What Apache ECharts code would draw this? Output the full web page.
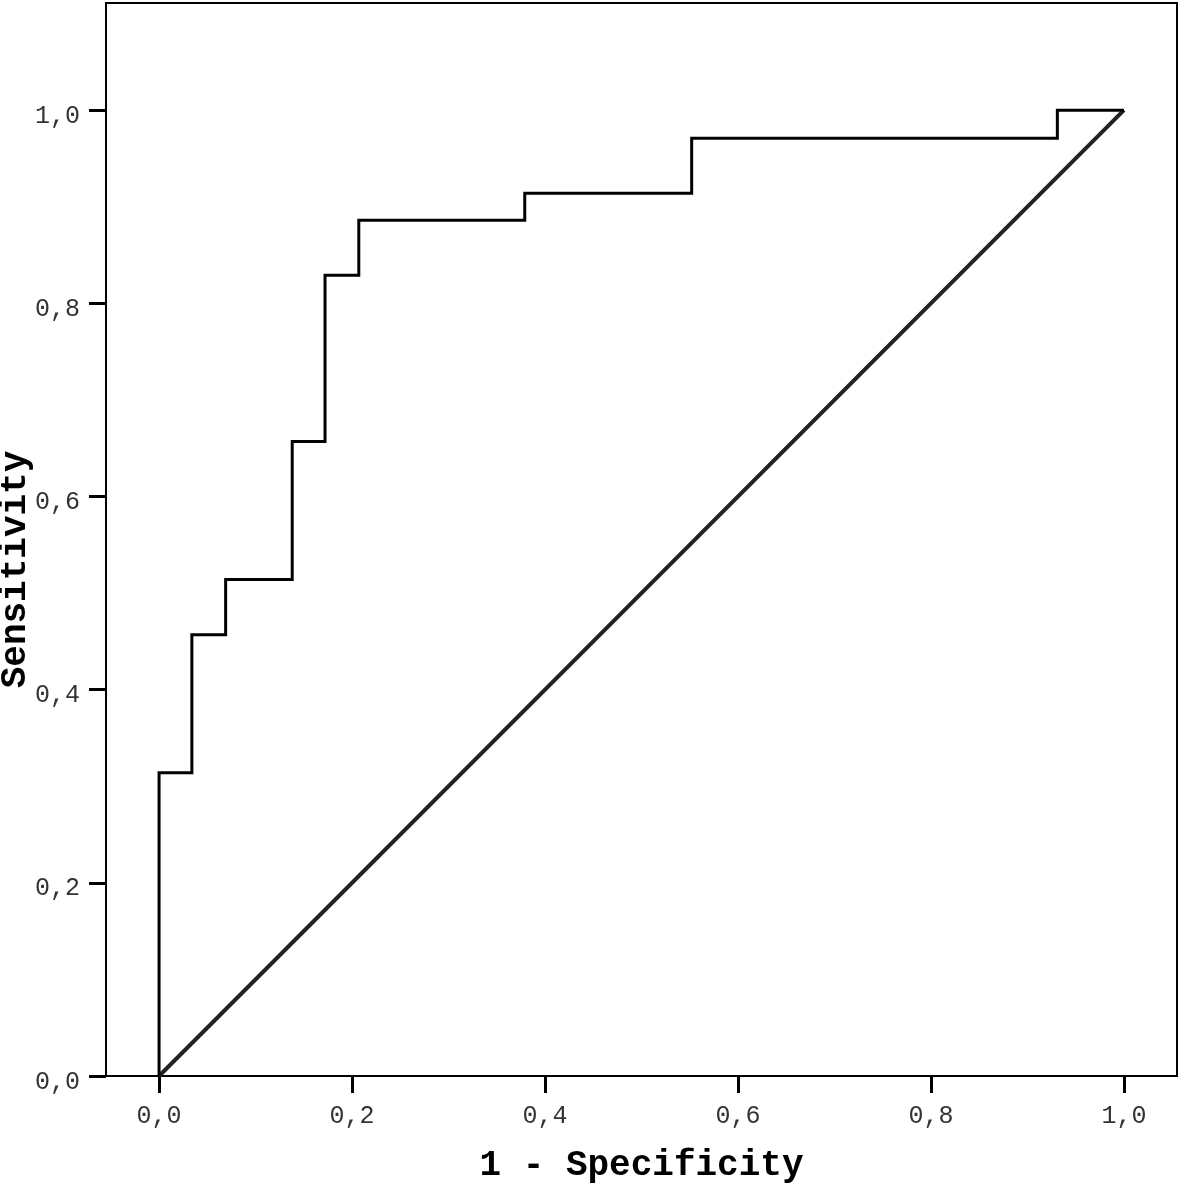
<!DOCTYPE html>
<html>
<head>
<meta charset="utf-8">
<script src="https://cdn.jsdelivr.net/npm/echarts@6/dist/echarts.min.js"></script>
<style>
  html, body { margin: 0; padding: 0; background: #fff; }
  #chart { width: 1181px; height: 1186px; }
</style>
</head>
<body>
<div id="chart"></div>
<script>
// ROC curve vertices (1 - specificity, sensitivity)
const rocFpr = [0.000, 0.000, 0.034, 0.034, 0.069, 0.069, 0.138, 0.138, 0.172, 0.172, 0.207, 0.207, 0.379, 0.379, 0.552, 0.552, 0.931, 0.931, 1.000];
const rocTpr = [0.000, 0.314, 0.314, 0.457, 0.457, 0.514, 0.514, 0.657, 0.657, 0.829, 0.829, 0.886, 0.886, 0.914, 0.914, 0.971, 0.971, 1.000, 1.000];
// reference diagonal
const refLine = [[0, 0], [1, 1]];
const tickValues = [0, 0.2, 0.4, 0.6, 0.8, 1.0];

const chart = echarts.init(document.getElementById('chart'), null, { renderer: 'canvas' });

const fmt = v => v.toFixed(1).replace('.', ',');

const axisCommon = {
  type: 'value',
  nameLocation: 'middle',
  nameMoveOverlap: false,
  nameTextStyle: {
    fontFamily: 'Liberation Mono',
    fontWeight: 'bold',
    fontSize: 36,
    color: '#000'
  },
  splitLine: { show: false },
  axisLine: { show: true, onZero: false, lineStyle: { color: '#000', width: 2 } },
  axisTick: {
    show: true,
    inside: false,
    length: 17,
    customValues: tickValues,
    lineStyle: { color: '#000', width: 3 }
  },
  axisLabel: {
    customValues: tickValues,
    formatter: fmt,
    fontFamily: 'Liberation Mono',
    fontSize: 25,
    color: '#333',
    margin: 28
  }
};

chart.setOption({
  animation: false,
  backgroundColor: '#fff',
  grid: {
    left: 106, top: 3, right: 4, bottom: 110,
    containLabel: false,
    outerBoundsMode: 'none',
    show: true,
    borderColor: '#000',
    borderWidth: 2,
    backgroundColor: 'transparent'
  },
  xAxis: Object.assign({}, axisCommon, {
    name: '1 - Specificity',
    nameGap: 72,
    min: -0.055,
    max: 1.055
  }),
  yAxis: Object.assign({}, axisCommon, {
    name: 'Sensitivity',
    nameGap: 72,
    min: 0,
    max: 1.111,
    nameTextStyle: Object.assign({}, axisCommon.nameTextStyle, { padding: [0, 60, 0, 0] }),
    axisLabel: Object.assign({}, axisCommon.axisLabel, { verticalAlign: 'top', lineHeight: 12, margin: 26 })
  }),
  series: [
    {
      type: 'line',
      data: refLine,
      showSymbol: false,
      lineStyle: { color: '#222', width: 4 },
      z: 2
    },
    {
      type: 'line',
      data: rocFpr.map((x, i) => [x, rocTpr[i]]),
      showSymbol: false,
      lineStyle: { color: '#000', width: 3, join: 'miter' },
      z: 3
    }
  ]
});
</script>
</body>
</html>
